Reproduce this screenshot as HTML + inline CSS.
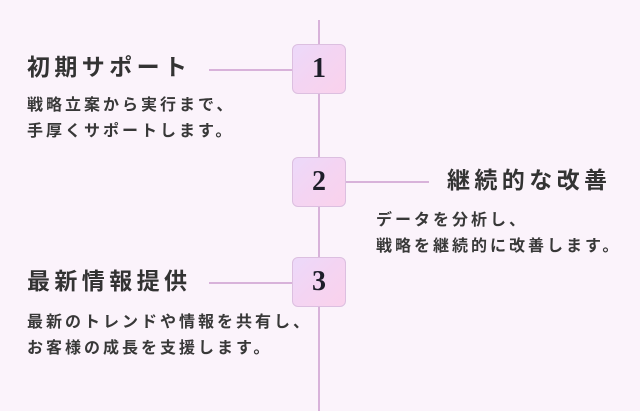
<!DOCTYPE html>
<html><head><meta charset="utf-8"><style>
html,body{margin:0;padding:0;}
body{width:640px;height:411px;background:#fbf3fb;position:relative;overflow:hidden;font-family:"Liberation Sans","Noto Sans CJK JP",sans-serif;color:#333;}
.vl{position:absolute;left:318px;top:20px;width:2px;height:391px;background:#d8b2da;}
.hl{position:absolute;height:2px;background:#d8b2da;}
.box{position:absolute;left:292px;width:52px;height:48px;border:1px solid #dcbfe0;border-radius:6px;background:linear-gradient(135deg,#ecd9fa 0%,#f4d4f2 50%,#fad2ec 100%);font-family:"Liberation Serif",serif;font-weight:bold;font-size:28px;line-height:48px;text-align:center;color:#1e1e2a;}
.t{position:absolute;font-size:23px;line-height:23px;font-weight:bold;letter-spacing:4.4px;white-space:nowrap;color:#333;}
.d{position:absolute;font-size:16px;line-height:25.5px;font-weight:bold;letter-spacing:3px;white-space:nowrap;color:#383838;}
</style></head><body>
<div class="vl"></div>
<div class="hl" style="left:209px;top:69px;width:84px;"></div>
<div class="hl" style="left:345px;top:181px;width:84px;"></div>
<div class="hl" style="left:209px;top:282px;width:84px;"></div>
<div class="box" style="top:44px;">1</div>
<div class="box" style="top:157px;">2</div>
<div class="box" style="top:257px;">3</div>
<div class="t" style="left:27px;top:56px;">初期サポート</div>
<div class="d" style="left:27px;top:93px;">戦略立案から実行まで、<br>手厚くサポートします。</div>
<div class="t" style="left:447px;top:169px;">継続的な改善</div>
<div class="d" style="left:376px;top:208px;">データを分析し、<br>戦略を継続的に改善します。</div>
<div class="t" style="left:27px;top:270px;">最新情報提供</div>
<div class="d" style="left:27px;top:310px;">最新のトレンドや情報を共有し、<br>お客様の成長を支援します。</div>
</body></html>
